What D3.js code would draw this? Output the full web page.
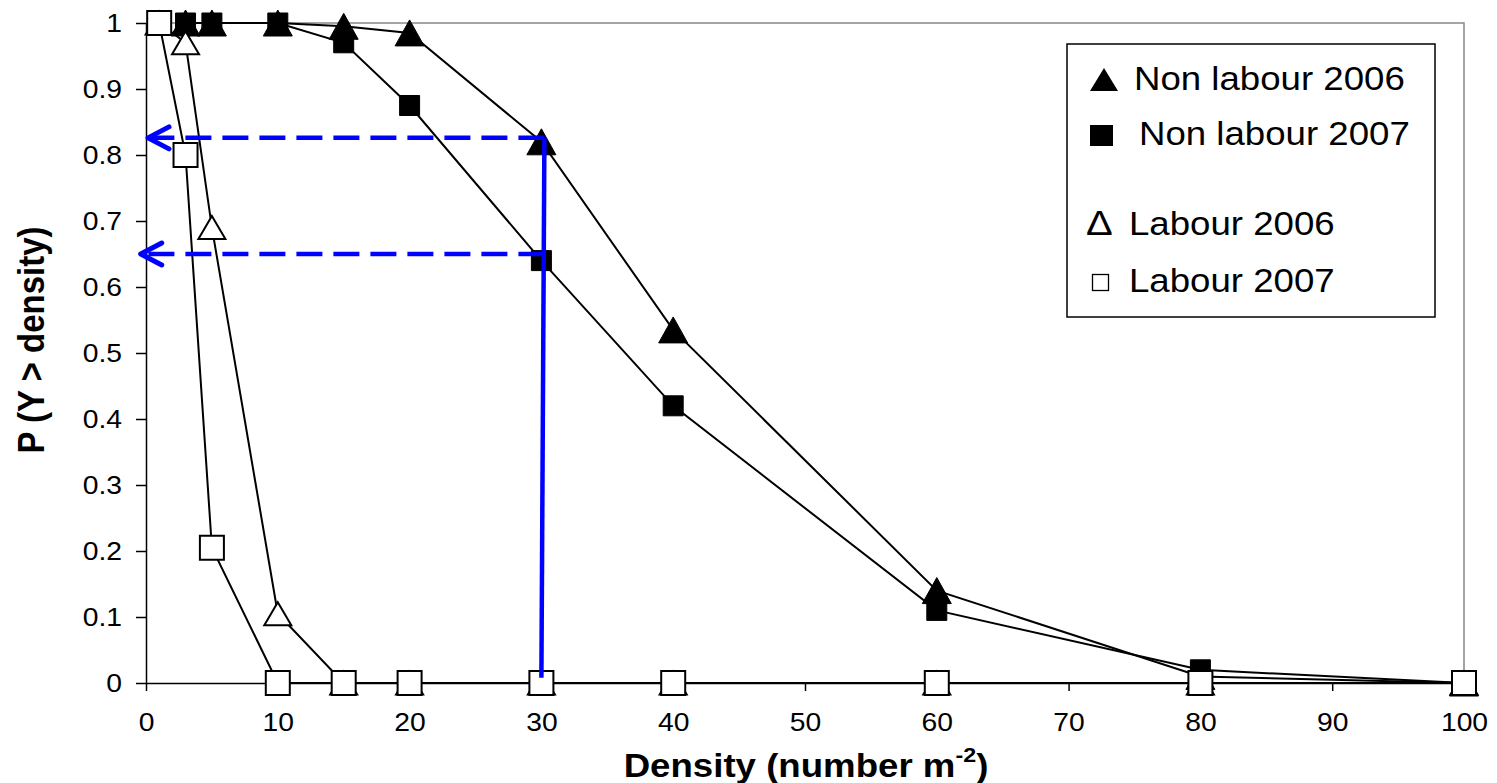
<!DOCTYPE html>
<html>
<head>
<meta charset="utf-8">
<script src="https://cdn.jsdelivr.net/npm/d3@7"></script>
<style>
  body { margin: 0; background: #fff; }
  text { font-family: Arial, "Liberation Sans", sans-serif; }
</style>
</head>
<body>
<div id="chart"></div>
<script>
// densities (number m-2) where P(Y > density) was evaluated
const densities = [1, 3, 5, 10, 15, 20, 30, 40, 60, 80, 100];

// null = no point at that density
const nonLabour2006 = [null, 1, 1, 1, 0.995, 0.985, 0.82, 0.535, 0.14, 0.01, 0];
const nonLabour2007 = [null, 1, 1, 1, 0.97, 0.875, 0.64, 0.42, 0.11, 0.02, 0];
const labour2006 = [1, 0.97, 0.69, 0.105, 0, 0, 0, 0, 0, 0, 0];
const labour2007 = [1, 0.80, 0.205, 0, 0, 0, 0, 0, 0, 0, 0];

const xTicks = [0, 10, 20, 30, 40, 50, 60, 70, 80, 90, 100];
const yTicks = [0, 0.1, 0.2, 0.3, 0.4, 0.5, 0.6, 0.7, 0.8, 0.9, 1];

// blue reading guides: density 30 up to the curves, then back to the axis
const guideDensity = 30;
const guideLevels = [0.826, 0.65];
const guideArrowTips = [0.15, -0.4];

const legendLabels = ["Non labour 2006", "Non labour 2007", "Labour 2006", "Labour 2007"];

const width = 1497, height = 783;
const margin = {top: 23, right: 33, bottom: 100, left: 146};
// the original picture is a bit wider than tall, text looks stretched
const sx = 1.11;

const svg = d3.select("#chart")
    .append("svg")
    .attr("width", width)
    .attr("height", height);

const x = d3.scaleLinear().domain([0, 100]).range([margin.left, width - margin.right]);
const y = d3.scaleLinear().domain([0, 1]).range([height - margin.bottom, margin.top]);

//plot area border (top and right, grey)
svg.append("path")
    .attr("d", `M${x(0)},${y(1)}H${x(100)}V${y(0)}`)
    .attr("fill", "none")
    .attr("stroke", "#888")
    .attr("stroke-width", 1.5);

//axes
const xAxis = svg.append("g")
    .attr("transform", `translate(0,${y(0)})`)
    .call(d3.axisBottom(x).tickValues(xTicks).tickSize(8).tickSizeOuter(0));
xAxis.selectAll("text")
    .attr("y", 48).attr("dy", 0)
    .attr("transform", `scale(${sx},1)`)
    .attr("font-size", 25.5)
    .attr("font-family", "Arial, 'Liberation Sans', sans-serif")
    .attr("fill", "#000");

const yAxis = svg.append("g")
    .attr("transform", `translate(${x(0)},0)`)
    .call(d3.axisLeft(y).tickValues(yTicks).tickSize(10).tickPadding(14).tickSizeOuter(0)
        .tickFormat(d => d3.format("")(+d.toFixed(1))));
yAxis.selectAll("text")
    .attr("x", -24 / sx)
    .attr("transform", `scale(${sx},1)`)
    .attr("font-size", 25.5)
    .attr("font-family", "Arial, 'Liberation Sans', sans-serif")
    .attr("fill", "#000");

svg.selectAll(".domain, .tick line")
    .attr("stroke", "#000")
    .attr("stroke-width", 1.5);

//axis titles
const xTitle = svg.append("text")
    .attr("transform", `translate(806,777) scale(${sx},1)`)
    .attr("text-anchor", "middle")
    .attr("font-size", 33)
    .attr("font-weight", "bold")
    .text("Density (number m");
xTitle.append("tspan")
    .attr("dy", -15)
    .attr("font-size", 21)
    .text("-2");
xTitle.append("tspan")
    .attr("dy", 15)
    .text(")");

svg.append("text")
    .attr("transform", `translate(44,340) rotate(-90) scale(1,${sx})`)
    .attr("text-anchor", "middle")
    .attr("font-size", 33)
    .attr("font-weight", "bold")
    .text("P (Y > density)");

//marker shapes, centred on the point
const markers = {
  triangle: (w, h) => `M0,${-h / 2}L${w / 2},${h / 2}L${-w / 2},${h / 2}Z`,
  square: (s) => `M${-s / 2},${-s / 2}h${s}v${s}h${-s}Z`
};

const series = [
  {name: legendLabels[0], values: nonLabour2006, shape: markers.triangle(29, 26), fill: "#000"},
  {name: legendLabels[1], values: nonLabour2007, shape: markers.square(20), fill: "#000"},
  {name: legendLabels[2], values: labour2006, shape: markers.triangle(27, 23), fill: "#fff"},
  {name: legendLabels[3], values: labour2007, shape: markers.square(24), fill: "#fff"}
];

const line = d3.line()
    .defined(d => d.v !== null)
    .x(d => x(d.x))
    .y(d => y(d.v));

series.forEach(s => {
  const pts = densities.map((d, i) => ({x: d, v: s.values[i]}));
  const g = svg.append("g");
  g.append("path")
      .datum(pts)
      .attr("d", line)
      .attr("fill", "none")
      .attr("stroke", "#000")
      .attr("stroke-width", 2);
  g.selectAll("path.mark")
      .data(pts.filter(p => p.v !== null))
      .enter()
      .append("path")
      .attr("class", "mark")
      .attr("transform", d => `translate(${x(d.x)},${y(d.v)})`)
      .attr("d", s.shape)
      .attr("fill", s.fill)
      .attr("stroke", "#000")
      .attr("stroke-width", s.fill === "#000" ? 1 : 2);
});

//blue guides
const blue = "#0000ff";
svg.append("line")
    .attr("x1", x(guideDensity) + 3).attr("y1", y(guideLevels[0]))
    .attr("x2", x(guideDensity)).attr("y2", y(0.008))
    .attr("stroke", blue)
    .attr("stroke-width", 4.5);

guideLevels.forEach((lv, i) => {
  const tip = x(guideArrowTips[i]);
  svg.append("line")
      .attr("x1", x(guideDensity) + 3).attr("y1", y(lv))
      .attr("x2", tip + 4).attr("y2", y(lv))
      .attr("stroke", blue)
      .attr("stroke-width", 4.5)
      .attr("stroke-dasharray", "26,11");
  svg.append("path")
      .attr("d", `M${tip + 21},${y(lv) - 11}L${tip},${y(lv)}L${tip + 21},${y(lv) + 11}`)
      .attr("fill", "none")
      .attr("stroke", blue)
      .attr("stroke-width", 5)
      .attr("stroke-linecap", "round")
      .attr("stroke-linejoin", "round");
});

//legend
const legend = svg.append("g");
legend.append("rect")
    .attr("x", 1067).attr("y", 44)
    .attr("width", 368).attr("height", 273)
    .attr("fill", "#fff")
    .attr("stroke", "#000")
    .attr("stroke-width", 1.5);

const legendRows = [
  {label: legendLabels[0], y: 90, tx: 1134},
  {label: legendLabels[1], y: 145, tx: 1139},
  {label: legendLabels[2], y: 235, tx: 1129},
  {label: legendLabels[3], y: 292, tx: 1129}
];

legend.append("path")
    .attr("d", `M1104,68L1118,91H1090Z`)
    .attr("fill", "#000");
legend.append("rect")
    .attr("x", 1090).attr("y", 125).attr("width", 23).attr("height", 21)
    .attr("fill", "#000");
legend.append("text")
    .attr("transform", `translate(1086,235) scale(${sx},1)`)
    .attr("font-family", "'Liberation Serif', 'DejaVu Serif', serif")
    .attr("font-size", 36)
    .text("\u0394");
legend.append("rect")
    .attr("x", 1092.5).attr("y", 274.5).attr("width", 16).attr("height", 16)
    .attr("fill", "#fff")
    .attr("stroke", "#000")
    .attr("stroke-width", 1.3);

legend.selectAll("text.lab")
    .data(legendRows)
    .enter()
    .append("text")
    .attr("class", "lab")
    .attr("transform", d => `translate(${d.tx},${d.y}) scale(${sx},1)`)
    .attr("font-size", 33)
    .text(d => d.label);
</script>
</body>
</html>
